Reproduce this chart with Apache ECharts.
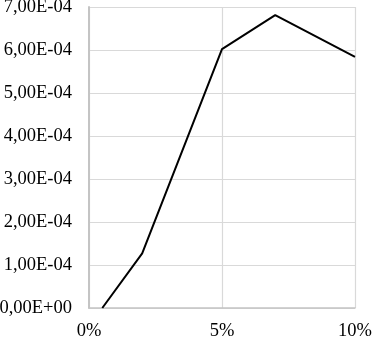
<!DOCTYPE html>
<html><head><meta charset="utf-8">
<script src="https://cdn.jsdelivr.net/npm/echarts@6/dist/echarts.min.js"></script>
<style>html,body{margin:0;padding:0;background:#fff}#c{width:372px;height:338px}</style>
</head><body><div id="c"></div>
<script>
const xPercent = [0.5, 2, 5, 7, 10];
const yValues = [0.0, 1.27e-4, 6.02e-4, 6.81e-4, 5.84e-4];
const xTicks = [0, 5, 10];

const chart = echarts.init(document.getElementById('c'), null, {renderer: 'canvas'});
const font = '"Liberation Serif", "Times New Roman", serif';
chart.setOption({
  animation: false,
  grid: {left: 89, right: 17, top: 7, bottom: 30, containLabel: false, outerBoundsMode: 'none'},
  xAxis: {
    type: 'value', min: xTicks[0], max: xTicks[xTicks.length-1], interval: 5,
    axisLine: {show: true, lineStyle: {color: '#c4c4c4', width: 1.5}},
    axisTick: {show: false},
    splitLine: {show: true, lineStyle: {color: '#d9d9d9', width: 1.2}},
    axisLabel: {formatter: v => v + '%', color: '#000', fontFamily: font, fontSize: 18.5, margin: 14}
  },
  yAxis: {
    type: 'value', min: 0, max: 7e-4, interval: 1e-4,
    axisLine: {show: true, lineStyle: {color: '#c4c4c4', width: 2}},
    axisTick: {show: false},
    splitLine: {show: true, lineStyle: {color: '#d9d9d9', width: 1.2}},
    axisLabel: {
      formatter: v => v === 0 ? '0,00E+00' : (v * 1e4).toFixed(2).replace('.', ',') + 'E-04',
      color: '#000', fontFamily: font, fontSize: 18.5, margin: 17
    }
  },
  series: [{
    type: 'line',
    data: xPercent.map((x, i) => [x, yValues[i]]),
    showSymbol: false, symbol: 'none',
    lineStyle: {color: '#000', width: 2}
  }]
});
</script></body></html>
